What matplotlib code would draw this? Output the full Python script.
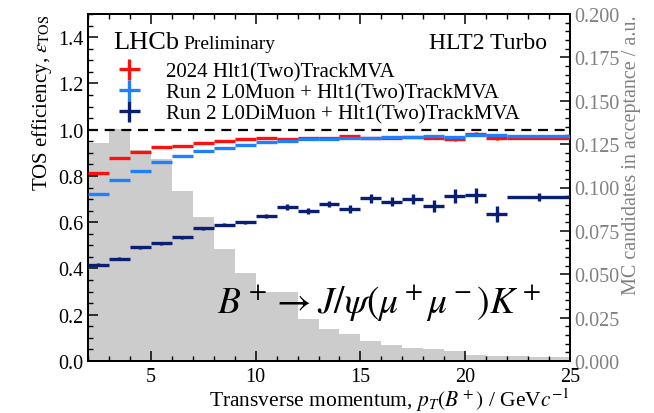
import numpy as np
import matplotlib
matplotlib.use("Agg")
import matplotlib.pyplot as plt
from matplotlib.ticker import MultipleLocator, FormatStrFormatter

plt.rcParams['font.family'] = ['Liberation Serif', 'DejaVu Serif']
plt.rcParams['mathtext.fontset'] = 'stix'

# ---- data ----
hist_edges = [2, 3, 4, 5, 6, 7, 8, 9, 10, 11, 12, 13, 14, 15, 16, 17, 18, 19, 20, 21, 22, 23, 24, 25]
hist_vals = [0.1257, 0.1340, 0.1216, 0.1164, 0.0980, 0.0830, 0.0646, 0.0507, 0.0400, 0.0398,
             0.0242, 0.0184, 0.0156, 0.0117, 0.0092, 0.0073, 0.0069, 0.0056, 0.0035, 0.0030,
             0.0027, 0.0025, 0.0024]

eff_edges = [2, 3, 4, 5, 6, 7, 8, 9, 10, 11, 12, 13, 14, 15, 16, 17, 18, 19, 20, 21, 22, 25]

eff_2024 = [0.814, 0.876, 0.905, 0.925, 0.930, 0.942, 0.949, 0.958, 0.964, 0.960, 0.964,
            0.963, 0.973, 0.965, 0.966, 0.967, 0.964, 0.958, 0.981, 0.963, 0.965]
err_2024 = [0.004, 0.003, 0.003, 0.003, 0.003, 0.003, 0.003, 0.003, 0.003, 0.004, 0.004,
            0.004, 0.005, 0.005, 0.005, 0.005, 0.006, 0.007, 0.007, 0.008, 0.005]

eff_l0muon = [0.720, 0.781, 0.821, 0.861, 0.886, 0.908, 0.921, 0.935, 0.947, 0.952, 0.958,
              0.960, 0.962, 0.964, 0.970, 0.970, 0.973, 0.970, 0.975, 0.975, 0.973]
err_l0muon = [0.003, 0.003, 0.003, 0.003, 0.003, 0.003, 0.003, 0.003, 0.003, 0.003, 0.003,
              0.003, 0.003, 0.003, 0.003, 0.003, 0.004, 0.004, 0.004, 0.004, 0.003]

eff_l0dimuon = [0.417, 0.443, 0.491, 0.509, 0.534, 0.573, 0.590, 0.599, 0.626, 0.665, 0.649,
                0.680, 0.658, 0.704, 0.688, 0.701, 0.670, 0.713, 0.716, 0.636, 0.709]
err_l0dimuon = [0.005, 0.005, 0.005, 0.006, 0.006, 0.007, 0.007, 0.008, 0.009, 0.012, 0.013,
                0.013, 0.018, 0.020, 0.020, 0.022, 0.024, 0.030, 0.032, 0.034, 0.016]

labels = ["2024 Hlt1(Two)TrackMVA",
          "Run 2 L0Muon + Hlt1(Two)TrackMVA",
          "Run 2 L0DiMuon + Hlt1(Two)TrackMVA"]
colors = ["#FF1010", "#1E7FFF", "#0B1F72"]

# ---- figure ----
fig = plt.figure(figsize=(6.54, 4.14), dpi=100)
ax = fig.add_axes([88/654, 1-362/414, (570-88)/654, (362-15)/414])
ax2 = ax.twinx()
ax.set_zorder(ax2.get_zorder() + 1)
ax.patch.set_visible(False)

ax2.stairs(hist_vals, hist_edges, fill=True, color="#CCCCCC", linewidth=0)
ax2.set_ylim(0, 0.2)

edges = np.array(eff_edges, dtype=float)
xc = 0.5 * (edges[1:] + edges[:-1])
xe = 0.5 * (edges[1:] - edges[:-1])

ax.axhline(1.0, color="black", lw=1.6, ls=(0, (4.5, 3)), zorder=1)

for vals, errs, c, lab in zip([eff_2024, eff_l0muon, eff_l0dimuon],
                              [err_2024, err_l0muon, err_l0dimuon], colors, labels):
    ax.errorbar(xc, vals, xerr=xe, yerr=errs, fmt='none', ecolor=c,
                elinewidth=2.4, capsize=0, label=lab, zorder=3)

ax.set_xlim(2, 25)
ax.xaxis.set_major_locator(MultipleLocator(5))
ax.xaxis.set_minor_locator(MultipleLocator(1))
ax.yaxis.set_minor_locator(MultipleLocator(0.05))
ax.yaxis.set_major_formatter(FormatStrFormatter('%.1f'))
ax.set_yticks(np.arange(0, 1.41, 0.2))
ax.set_ylim(0, 1.5)

ax2.yaxis.set_major_locator(MultipleLocator(0.025))
ax2.yaxis.set_minor_locator(MultipleLocator(0.005))
ax2.yaxis.set_major_formatter(FormatStrFormatter('%.3f'))

ax.tick_params(axis='both', which='both', direction='in', top=True, right=False,
               labelsize=14.5)
ax.tick_params(axis='both', which='major', length=7, width=1.1)
ax.tick_params(axis='both', which='minor', length=3.5, width=1.0)
ax.tick_params(axis='x', which='major', pad=4)
ax2.tick_params(axis='y', which='both', direction='in', labelsize=14.5, labelcolor='#808080')
ax2.tick_params(axis='y', which='major', length=7, width=1.1, pad=3)
ax2.tick_params(axis='y', which='minor', length=3.5, width=1.0)

for sp in ax.spines.values():
    sp.set_linewidth(1.3)
for sp in ax2.spines.values():
    sp.set_linewidth(1.3)

ax.set_xlabel(r"Transverse momentum, $p_T(B^+)$ / GeV$c^{-1}$", fontsize=15.5, loc='right', labelpad=0)
ax.set_ylabel(r"TOS efficiency, $\varepsilon_{\mathrm{TOS}}$", fontsize=15, loc='top', labelpad=3)
ax2.set_ylabel("MC candidates in acceptance / a.u.", fontsize=14.5, loc='top', color='#808080', labelpad=2)

ax.text(0.052, 0.903, "LHCb", transform=ax.transAxes, fontsize=19, ha='left', va='baseline')
ax.text(0.197, 0.903, "Preliminary", transform=ax.transAxes, fontsize=14, ha='left', va='baseline')
ax.text(0.952, 0.903, "HLT2 Turbo", transform=ax.transAxes, fontsize=17, ha='right', va='baseline')

ax.text(0.604, 0.141, r"$B^+ \to J/\psi(\mu^+\mu^-)K^+$", transform=ax.transAxes,
        fontsize=27, ha='center', va='baseline')

leg = ax.legend(loc='upper left', bbox_to_anchor=((117 - 88) / 482, (362 - 63) / 347),
                frameon=False, fontsize=15, handlelength=1.2, handletextpad=1.15,
                labelspacing=0.07, borderaxespad=0, borderpad=0)

fig.savefig("out.png", dpi=100)
